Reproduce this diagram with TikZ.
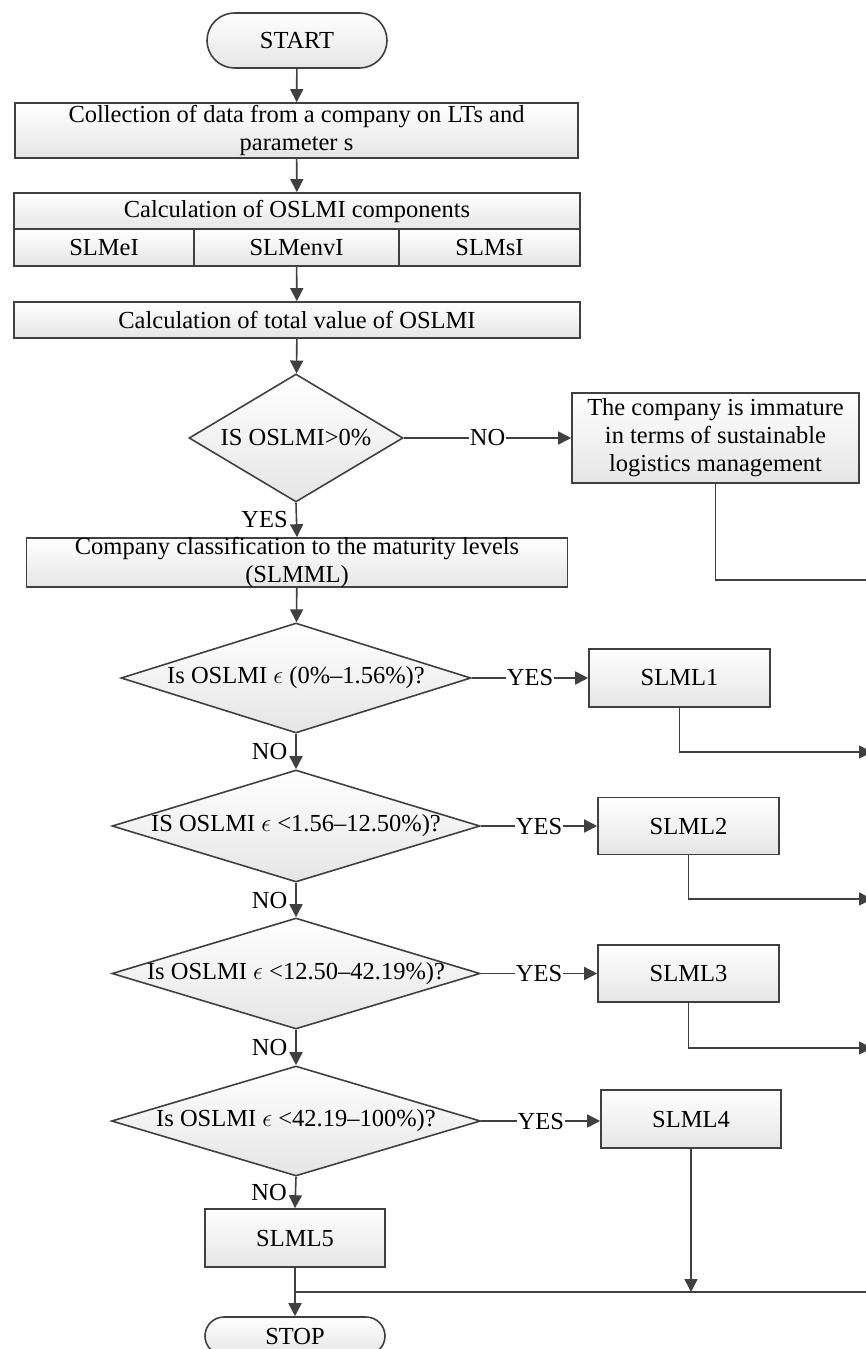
\documentclass[tikz,border=0pt]{standalone}
\usepackage{fontspec}
\setmainfont{Liberation Serif}
\usetikzlibrary{shapes.geometric,shapes.misc,arrows.meta}
\definecolor{lc}{HTML}{404040}
\begin{document}
\begin{tikzpicture}[x=1pt,y=-1pt,
  every node/.style={font=\fontsize{24.5}{28}\selectfont, text=black},
  base/.style={draw=lc, line width=1.6pt, top color=white, bottom color=black!10, inner sep=0pt},
  pbox/.style={base, rectangle, align=center},
  term/.style={base, rounded rectangle},
  dec/.style={base, diamond},
  conn/.style={draw=lc, line width=1.6pt},
  arr/.style={conn, -{Triangle[length=13pt,width=13pt]}},
  hlab/.style={fill=white, inner sep=1pt},
  vlab/.style={left, inner sep=0pt, xshift=-8pt}]
\useasboundingbox (0,0) rectangle (866,1349);

% main column
\node[term, minimum width=180pt, minimum height=55pt] (start) at (297,40.5) {START};
\node[pbox, minimum width=563pt, minimum height=55pt] (collect) at (296.5,130.5) {Collection of data from a company on LTs and\\parameter s};
\node[pbox, minimum width=566pt, minimum height=36pt] (calc) at (297,211) {Calculation of OSLMI components};
\node[pbox, minimum width=180pt, minimum height=37pt] (slmei) at (104,247.5) {SLMeI};
\node[pbox, minimum width=205pt, minimum height=37pt] (slmenvi) at (296.5,247.5) {SLMenvI};
\node[pbox, minimum width=181pt, minimum height=37pt] (slmsi) at (489.5,247.5) {SLMsI};
\node[pbox, minimum width=566pt, minimum height=36pt] (total) at (297,320) {Calculation of total value of OSLMI};
\node[dec, minimum width=214pt, minimum height=128pt, label=center:{IS OSLMI>0\%}] (d1) at (296,438) {};
\node[pbox, minimum width=287pt, minimum height=90pt] (imm) at (715.5,438) {The company is immature\\in terms of sustainable\\logistics management};
\node[pbox, minimum width=541pt, minimum height=49pt, label={[align=center]center:Company classification to the maturity levels\\(SLMML)}] (classif) at (297,562.5) {};
\node[dec, minimum width=350pt, minimum height=110pt, label={center:Is OSLMI $\epsilon$ (0\%–1.56\%)?}] (d2) at (296,678) {};
\node[pbox, minimum width=181pt, minimum height=58pt] (slml1) at (679.5,678) {SLML1};
\node[dec, minimum width=368pt, minimum height=112pt, label={center:IS OSLMI $\epsilon$ <1.56–12.50\%)?}] (d3) at (296,826) {};
\node[pbox, minimum width=181pt, minimum height=57pt] (slml2) at (688.5,826) {SLML2};
\node[dec, minimum width=368pt, minimum height=111pt, label={center:Is OSLMI $\epsilon$ <12.50–42.19\%)?}] (d4) at (296,973.5) {};
\node[pbox, minimum width=181pt, minimum height=57pt] (slml3) at (688.5,973.5) {SLML3};
\node[dec, minimum width=369pt, minimum height=110pt, label={center:Is OSLMI $\epsilon$ <42.19–100\%)?}] (d5) at (296,1121) {};
\node[pbox, minimum width=180pt, minimum height=58pt] (slml4) at (691,1119) {SLML4};
\node[pbox, minimum width=180pt, minimum height=58pt] (slml5) at (295,1238) {SLML5};
\node[term, minimum width=180pt, minimum height=38pt] (stop) at (295,1336) {STOP};

% free ends at the right edge
\coordinate (e0) at (872,580);
\coordinate (e1) at (872,752);
\coordinate (e2) at (872,899);
\coordinate (e3) at (872,1048);
\coordinate (j5) at (295,1292);
\coordinate (eB) at (872,1292);

% connectors
\draw[arr] (start) -- (collect);
\draw[arr] (collect) -- (calc);
\draw[arr] (slmenvi) -- (total);
\draw[arr] (total) -- (d1);
\draw[arr] (d1.east) -- node[hlab] {NO} (imm.west);
\draw[arr] (d1.south) -- node[vlab] {YES} (classif.north);
\draw[arr] (classif) -- (d2);
\draw[arr] (d2.east) -- node[hlab] {YES} (d2.east -| slml1.west);
\draw[arr] (d2.south) -- node[vlab] {NO} (d3.north);
\draw[arr] (d3.east) -- node[hlab] {YES} (d3.east -| slml2.west);
\draw[arr] (d3.south) -- node[vlab] {NO} (d4.north);
\draw[arr] (d4.east) -- node[hlab] {YES} (d4.east -| slml3.west);
\draw[arr] (d4.south) -- node[vlab] {NO} (d5.north);
\draw[arr] (d5.east) -- node[hlab] {YES} (d5.east -| slml4.west);
\draw[arr] (d5.south) -- node[vlab] {NO} (slml5.north);
\draw[arr] (slml5) -- (stop);
\draw[conn] (imm.south) |- (e0);
\draw[arr] (slml1.south) |- (e1);
\draw[arr] (slml2.south) |- (e2);
\draw[arr] (slml3.south) |- (e3);
\draw[arr] (slml4.south) -- (slml4.south |- j5);
\draw[conn] (j5) -- (eB);
\end{tikzpicture}
\end{document}
